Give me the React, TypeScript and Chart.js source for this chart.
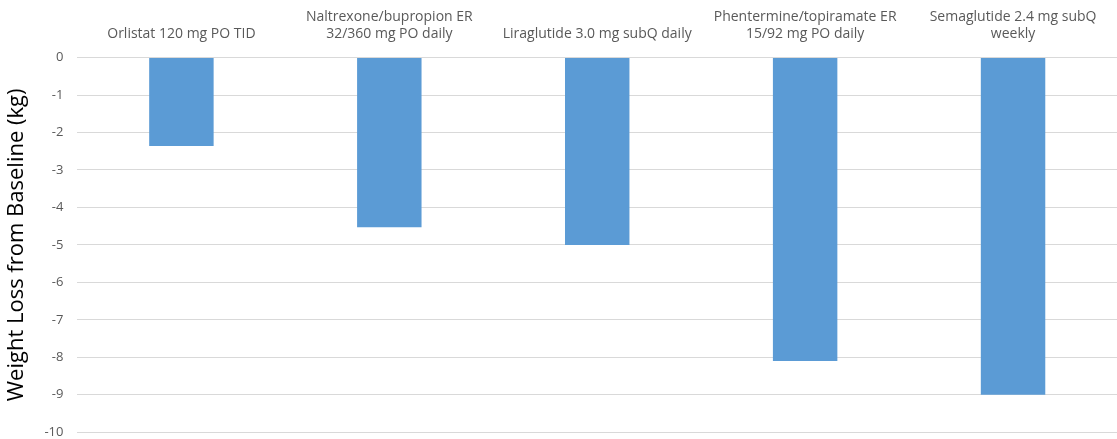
import React, { useEffect, useRef } from "react";
import { Chart, registerables } from "chart.js";

Chart.register(...registerables);

const categories: string[][] = [
  ["Orlistat 120 mg PO TID"],
  ["Naltrexone/bupropion ER", "32/360 mg PO daily"],
  ["Liraglutide 3.0 mg subQ daily"],
  ["Phentermine/topiramate ER", "15/92 mg PO daily"],
  ["Semaglutide 2.4 mg subQ", "weekly"],
];
const weightLoss: number[] = [-2.36, -4.53, -5.0, -8.1, -9.0];
const yMin = -10;
const yMax = 0;
const yStep = 1;

export default function App() {
  const ref = useRef<HTMLCanvasElement | null>(null);
  useEffect(() => {
    if (!ref.current) return;
    const chart = new Chart(ref.current, {
      type: "bar",
      data: {
        labels: categories as any,
        datasets: [
          {
            data: weightLoss,
            backgroundColor: "#5B9BD5",
            borderWidth: 0,
            categoryPercentage: 1,
            barPercentage: 0.31,
          },
        ],
      },
      options: {
        animation: false,
        responsive: true,
        maintainAspectRatio: false,
        layout: { padding: { left: 4, right: 0, top: 2, bottom: 6 } },
        plugins: { legend: { display: false }, tooltip: { enabled: false } },
        scales: {
          x: {
            position: "top",
            grid: { display: false },
            border: { display: false },
            ticks: {
              color: "#595959",
              font: { family: "'Open Sans', sans-serif", size: 14 },
              padding: 7,
              maxRotation: 0,
              autoSkip: false,
            },
          },
          y: {
            min: yMin,
            max: yMax,
            border: { display: false },
            grid: { color: "#D9D9D9", drawTicks: false },
            ticks: {
              stepSize: yStep,
              color: "#595959",
              font: { family: "'Open Sans', sans-serif", size: 13 },
              padding: 14,
            },
            title: {
              display: true,
              text: "Weight Loss from Baseline (kg)",
              color: "#000000",
              font: { family: "'Open Sans', sans-serif", size: 22 },
              padding: 0,
            },
          },
        },
      },
    });
    return () => chart.destroy();
  }, []);
  return (
    <div style={{ position: "fixed", left: 0, top: 0, width: 1117, height: 454, background: "#fff" }}>
      <canvas ref={ref} />
    </div>
  );
}
